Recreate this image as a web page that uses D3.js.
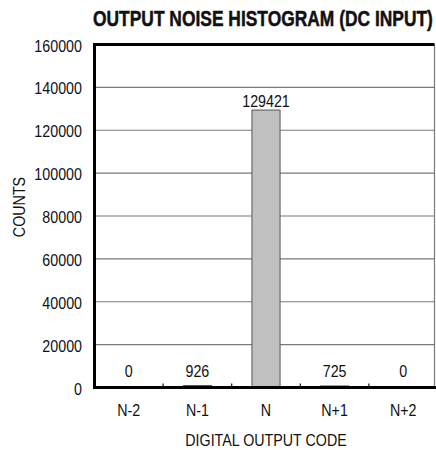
<!DOCTYPE html>
<html><head><meta charset="utf-8">
<script src="https://cdn.jsdelivr.net/npm/d3@7"></script>
<style>
html,body{margin:0;padding:0;background:#fff;}
svg{display:block;}
text{font-family:"Liberation Sans",Arial,sans-serif;fill:#111;}
</style></head>
<body>
<svg id="chart" width="436" height="450"></svg>
<script>
const categories = ["N-2", "N-1", "N", "N+1", "N+2"];
const counts = [0, 926, 129421, 725, 0];
const yTicks = [0, 20000, 40000, 60000, 80000, 100000, 120000, 140000, 160000];
const title = "OUTPUT NOISE HISTOGRAM (DC INPUT)";
const xTitle = "DIGITAL OUTPUT CODE";
const yTitle = "COUNTS";

const svg = d3.select("#chart");
const pL = 94.5, pR = 437.5, pT = 44.5, pB = 387.5;
const SX = 0.84; // condensed look

const x = d3.scaleBand().domain(categories).range([pL, pR]).paddingInner(0.59).paddingOuter(0.295);
const xb = d3.scaleBand().domain(categories).range([pL, pR]);
const y = d3.scaleLinear().domain([0, 160000]).range([pB, pT]);

const place = (px, py) => `translate(${px},${py}) scale(${SX},1)`;

// gridlines
svg.append("g").selectAll("line").data(yTicks.filter(d => d > 0 && d < 160000)).join("line")
  .attr("x1", pL).attr("x2", 434.5)
  .attr("y1", d => y(d)).attr("y2", d => y(d))
  .attr("stroke", "#7a7a7a").attr("stroke-width", 1.2);

// right border
svg.append("line").attr("x1", 434.5).attr("x2", 434.5).attr("y1", pT).attr("y2", pB)
  .attr("stroke", "#7a7a7a").attr("stroke-width", 1.2);

// bars
svg.append("g").selectAll("rect").data(counts).join("rect")
  .attr("x", (d, i) => x(categories[i]))
  .attr("width", x.bandwidth())
  .attr("y", d => y(d))
  .attr("height", d => pB - y(d))
  .attr("fill", "#c0c0c0").attr("stroke", "#555").attr("stroke-width", 1);

// value labels
svg.append("g").selectAll("text").data(counts).join("text")
  .attr("transform", (d, i) => place(x(categories[i]) + x.bandwidth() / 2, Math.min(y(d) - 3, pB - 11)))
  .attr("text-anchor", "middle").attr("font-size", 17)
  .text(d => d);

// x boundary ticks
svg.append("g").selectAll("line").data(categories.slice(1)).join("line")
  .attr("x1", d => xb(d)).attr("x2", d => xb(d))
  .attr("y1", pB).attr("y2", pB - 4)
  .attr("stroke", "#111").attr("stroke-width", 1.2);

// frame: left, top, bottom thick black
svg.append("path")
  .attr("d", `M${pL},${pB}V${pT}H434.5`)
  .attr("fill", "none").attr("stroke", "#000").attr("stroke-width", 3);
svg.append("line").attr("x1", pL - 1.5).attr("x2", 436).attr("y1", pB).attr("y2", pB)
  .attr("stroke", "#000").attr("stroke-width", 3);

// y tick labels
svg.append("g").selectAll("text").data(yTicks).join("text")
  .attr("transform", d => place(82, y(d) + 7))
  .attr("text-anchor", "end").attr("font-size", 17)
  .text(d => d);

// x tick labels
svg.append("g").selectAll("text").data(categories).join("text")
  .attr("transform", d => place(xb(d) + xb.bandwidth() / 2, 416))
  .attr("text-anchor", "middle").attr("font-size", 17)
  .text(d => d);

// axis titles
svg.append("text").attr("transform", place(266, 446)).attr("text-anchor", "middle")
  .attr("font-size", 17).text(xTitle);
svg.append("text").attr("transform", `translate(25,207) rotate(-90) scale(${SX},1)`)
  .attr("text-anchor", "middle").attr("font-size", 17).text(yTitle);

// title, squeezed to fit between x=93 and x=433
const t = svg.append("text").attr("x", 0).attr("y", 0)
  .attr("font-size", 22).attr("font-weight", "bold")
  .attr("stroke", "#111").attr("stroke-width", 0.5)
  .text(title);
const tw = t.node().getComputedTextLength();
t.attr("transform", `translate(93,26) scale(${340 / tw},1)`);
</script>
</body></html>
